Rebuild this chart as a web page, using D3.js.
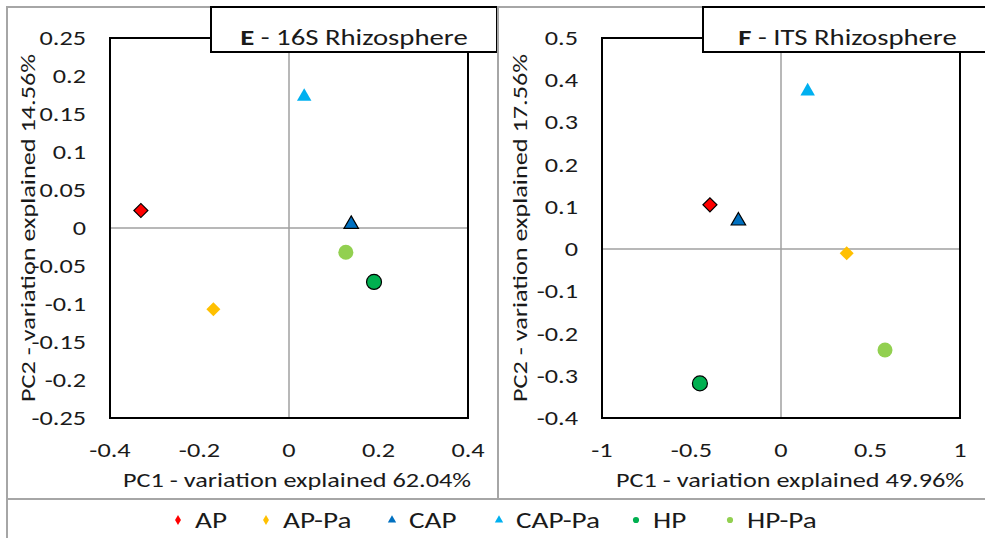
<!DOCTYPE html>
<html>
<head>
<meta charset="utf-8">
<script src="https://cdn.jsdelivr.net/npm/d3@7"></script>
<style>
  body { margin: 0; background: #fff; }
  svg text { font-family: Carlito, Calibri, Lato, "Open Sans", sans-serif; fill: #1a1a1a; }
</style>
</head>
<body>
<div id="chart"></div>
<script>
// Groups, in legend order
var groups = ["AP", "AP-Pa", "CAP", "CAP-Pa", "HP", "HP-Pa"];
var groupColors = ["#FF0000", "#FFC000", "#0070C0", "#00B0F0", "#00B050", "#92D050"];
var groupShapes = ["diamond", "diamond", "triangle", "triangle", "circle", "circle"];
var groupOutlined = [true, false, true, false, true, false];

// Panel E - 16S rhizosphere
var pc1_16S = [-0.331, -0.169, 0.139, 0.034, 0.190, 0.127];
var pc2_16S = [0.023, -0.107, 0.005, 0.173, -0.071, -0.032];
var xTicks_16S = [-0.4, -0.2, 0, 0.2, 0.4];
var yTicks_16S = [0.25, 0.2, 0.15, 0.1, 0.05, 0, -0.05, -0.1, -0.15, -0.2, -0.25];

// Panel F - ITS rhizosphere
var pc1_ITS = [-0.397, 0.367, -0.238, 0.149, -0.453, 0.581];
var pc2_ITS = [0.105, -0.010, 0.067, 0.374, -0.318, -0.239];
var xTicks_ITS = [-1, -0.5, 0, 0.5, 1];
var yTicks_ITS = [0.5, 0.4, 0.3, 0.2, 0.1, 0, -0.1, -0.2, -0.3, -0.4];

var svgWidth = 985;
var svgHeight = 538;
var sx = 1.25; // text in the original is drawn a bit wide

var svg = d3.select("#chart")
  .append("svg")
  .attr("width", svgWidth)
  .attr("height", svgHeight);

var panels = [
  {
    letter: "E", title: " - 16S Rhizosphere",
    xs: pc1_16S, ys: pc2_16S, xTicks: xTicks_16S, yTicks: yTicks_16S,
    xDomain: [-0.4, 0.4], yDomain: [-0.25, 0.25],
    xLabel: "PC1 - variation explained 62.04%",
    yLabel: "PC2 - variation explained 14.56%",
    frame: [7, 7, 498, 499], plot: [110, 38, 468, 418],
    titleBox: [211, 7, 497, 52], xLabelX: 297, yLabelX: 35
  },
  {
    letter: "F", title: " - ITS Rhizosphere",
    xs: pc1_ITS, ys: pc2_ITS, xTicks: xTicks_ITS, yTicks: yTicks_ITS,
    xDomain: [-1, 1], yDomain: [-0.4, 0.5],
    xLabel: "PC1 - variation explained 49.96%",
    yLabel: "PC2 - variation explained 17.56%",
    frame: [498, 7, 990, 499], plot: [602, 38, 960, 418],
    titleBox: [703, 7, 992, 52], xLabelX: 790, yLabelX: 527
  }
];

var fmt = d => String(+d.toFixed(2));

function markerPath(shape) {
  if (shape === "diamond") return d3.symbol().type(d3.symbolSquare).size(98)();
  if (shape === "triangle") return d3.symbol().type(d3.symbolTriangle2).size(150)();
  return d3.symbol().type(d3.symbolCircle).size(176)();
}

function markerTransform(shape, x, y) {
  if (shape === "diamond") return `translate(${x},${y}) rotate(45)`;
  return `translate(${x},${y})`;
}

panels.forEach(p => {
  var g = svg.append("g");

  // panel frame
  g.append("rect")
    .attr("x", p.frame[0]).attr("y", p.frame[1])
    .attr("width", p.frame[2] - p.frame[0]).attr("height", p.frame[3] - p.frame[1])
    .attr("fill", "none").attr("stroke", "#a6a6a6").attr("stroke-width", 2);

  var xScale = d3.scaleLinear().domain(p.xDomain).range([p.plot[0], p.plot[2]]);
  var yScale = d3.scaleLinear().domain(p.yDomain).range([p.plot[3], p.plot[1]]);

  // zero lines
  g.append("line")
    .attr("x1", xScale(0)).attr("x2", xScale(0))
    .attr("y1", p.plot[1]).attr("y2", p.plot[3])
    .attr("stroke", "#a0a0a0").attr("stroke-width", 1.5);
  g.append("line")
    .attr("x1", p.plot[0]).attr("x2", p.plot[2])
    .attr("y1", yScale(0)).attr("y2", yScale(0))
    .attr("stroke", "#a0a0a0").attr("stroke-width", 1.5);

  // plot frame
  g.append("rect")
    .attr("x", p.plot[0]).attr("y", p.plot[1])
    .attr("width", p.plot[2] - p.plot[0]).attr("height", p.plot[3] - p.plot[1])
    .attr("fill", "none").attr("stroke", "#000").attr("stroke-width", 2);

  // tick labels
  g.selectAll("text.ytick")
    .data(p.yTicks)
    .enter()
    .append("text")
    .attr("class", "ytick")
    .attr("transform", d => `translate(${p.plot[0] - 24},${yScale(d) + 7}) scale(${sx},1)`)
    .attr("text-anchor", "end").attr("font-size", 21)
    .text(fmt);

  g.selectAll("text.xtick")
    .data(p.xTicks)
    .enter()
    .append("text")
    .attr("class", "xtick")
    .attr("transform", d => `translate(${xScale(d)},${p.plot[3] + 39}) scale(${sx},1)`)
    .attr("text-anchor", "middle").attr("font-size", 21)
    .text(fmt);

  // axis titles
  g.append("text")
    .attr("transform", `translate(${p.xLabelX},487) scale(${sx},1)`)
    .attr("text-anchor", "middle").attr("font-size", 21)
    .text(p.xLabel);
  g.append("text")
    .attr("transform", `translate(${p.yLabelX},${(p.plot[1] + p.plot[3]) / 2}) rotate(-90) scale(${sx},1)`)
    .attr("text-anchor", "middle").attr("font-size", 21)
    .text(p.yLabel);

  // points
  var pts = p.xs.map((x, i) => ({ x: x, y: p.ys[i], i: i }));
  g.selectAll("path.pt")
    .data(pts)
    .enter()
    .append("path")
    .attr("class", "pt")
    .attr("d", d => markerPath(groupShapes[d.i]))
    .attr("transform", d => markerTransform(groupShapes[d.i], xScale(d.x), yScale(d.y)))
    .attr("fill", d => groupColors[d.i])
    .attr("stroke", d => groupOutlined[d.i] ? "#000" : "none")
    .attr("stroke-width", 1.2);

  // title box
  g.append("rect")
    .attr("x", p.titleBox[0]).attr("y", p.titleBox[1])
    .attr("width", p.titleBox[2] - p.titleBox[0]).attr("height", p.titleBox[3] - p.titleBox[1])
    .attr("fill", "#fff").attr("stroke", "#000").attr("stroke-width", 2);
  var t = g.append("text")
    .attr("transform", `translate(${(p.titleBox[0] + p.titleBox[2]) / 2},45) scale(${sx},1)`)
    .attr("text-anchor", "middle").attr("font-size", 23);
  t.append("tspan").attr("font-weight", "bold").text(p.letter);
  t.append("tspan").text(p.title);
});

// legend
svg.append("rect")
  .attr("x", 7).attr("y", 499).attr("width", 990).attr("height", 50)
  .attr("fill", "none").attr("stroke", "#a6a6a6").attr("stroke-width", 2);

var legendX = [178, 266, 392, 499, 636, 730];
var legend = svg.selectAll("g.leg")
  .data(groups)
  .enter()
  .append("g")
  .attr("class", "leg")
  .attr("transform", (d, i) => `translate(${legendX[i]},520)`);
legend.append("path")
  .attr("d", (d, i) => groupShapes[i] === "diamond"
    ? d3.symbol().type(d3.symbolDiamond).size(30)()
    : d3.symbol().type(groupShapes[i] === "triangle" ? d3.symbolTriangle : d3.symbolCircle).size(30)())
  .attr("fill", (d, i) => groupColors[i]);
legend.append("text")
  .attr("transform", "translate(17,8) scale(1.27,1)")
  .attr("font-size", 23)
  .text(d => d);
</script>
</body>
</html>
